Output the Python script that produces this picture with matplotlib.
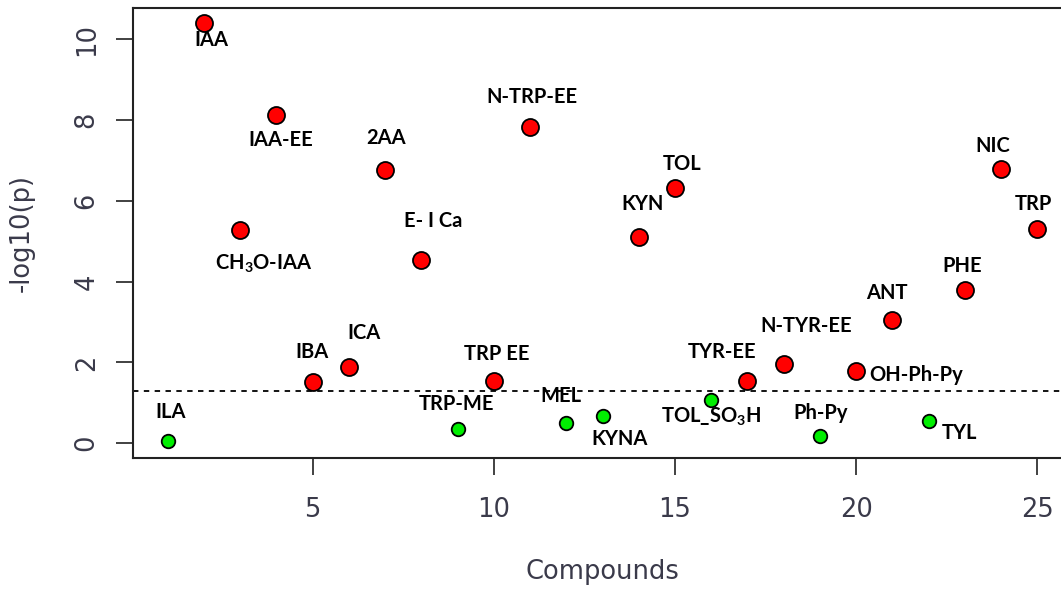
import numpy as np
import matplotlib.pyplot as plt

plt.rcParams['mathtext.fontset'] = 'custom'
plt.rcParams['mathtext.rm'] = 'Lato:bold'
plt.rcParams['mathtext.it'] = 'Lato:bold'
plt.rcParams['mathtext.bf'] = 'Lato:bold'

# Dane: numer związku, -log10(p), nazwa
compound = np.arange(1, 26)
log_p = [0.05, 10.40, 5.29, 8.12, 1.51, 1.88, 6.76, 4.53, 0.35, 1.53,
         7.82, 0.50, 0.67, 5.10, 6.31, 1.06, 1.53, 1.95, 0.17, 1.78,
         3.04, 0.54, 3.79, 6.78, 5.30]
names = ["ILA", "IAA", "CH$_3$O-IAA", "IAA-EE", "IBA", "ICA", "2AA", "E- I Ca",
         "TRP-ME", "TRP EE", "N-TRP-EE", "MEL", "KYNA", "KYN", "TOL",
         "TOL_SO$_3$H", "TYR-EE", "N-TYR-EE", "Ph-Py", "OH-Ph-Py",
         "ANT", "TYL", "PHE", "NIC", "TRP"]
# przesunięcia etykiet w pikselach (dx, dy)
offsets = [(3, 29), (7, -17), (24, -34), (4, -25), (-1, 30), (15, 34),
           (1, 32), (12, 39), (-1, 25), (3, 27), (2, 30), (-5, 27),
           (17, -23), (4, 33), (7, 24), (0, -17), (-25, 29), (23, 38),
           (1, 23), (60, -4), (-5, 27), (31, -12), (-3, 24), (-8, 23),
           (-4, 25)]
threshold = -np.log10(0.05)

log_p = np.array(log_p)
signif = log_p > threshold

fig = plt.figure(figsize=(10.61, 5.92), dpi=100)
ax = fig.add_axes([133 / 1061, 1 - 458 / 592, (1072 - 133) / 1061, 450 / 592])

ax.scatter(compound[signif], log_p[signif], s=150, c="#ff0000",
           edgecolors="black", linewidths=1.3, zorder=3)
ax.scatter(compound[~signif], log_p[~signif], s=95, c="#00ee00",
           edgecolors="black", linewidths=1.3, zorder=3)
ax.axhline(threshold, color="black", linestyle=(0, (3, 3)), linewidth=1.3)

for x, y, name, (dx, dy) in zip(compound, log_p, names, offsets):
    ax.annotate(name, (x, y), xytext=(dx, dy), textcoords="offset pixels",
                ha="center", va="center", fontsize=14.5, fontweight="bold",
                family="Lato", color="black")

ax.set_xlim(0.04, 25.96)
ax.set_ylim(-0.37, 10.78)
ax.set_xticks([5, 10, 15, 20, 25])
ax.set_yticks([0, 2, 4, 6, 8, 10])

tick_color = "#3a3a4a"
ax.tick_params(direction="out", length=12, width=1.3, labelsize=18.5,
               labelcolor=tick_color, color="#333333")
ax.tick_params(axis="x", pad=16)
ax.tick_params(axis="y", pad=12)
for lab in ax.get_yticklabels():
    lab.set_rotation(90)
    lab.set_va("center")

for sp in ax.spines.values():
    sp.set_linewidth(1.5)
    sp.set_color("#222222")

ax.set_xlabel("Compounds", fontsize=18.5, color=tick_color, labelpad=26)
ax.set_ylabel("-log10(p)", fontsize=18.5, color=tick_color, labelpad=28)

fig.savefig("out.png", dpi=100)
